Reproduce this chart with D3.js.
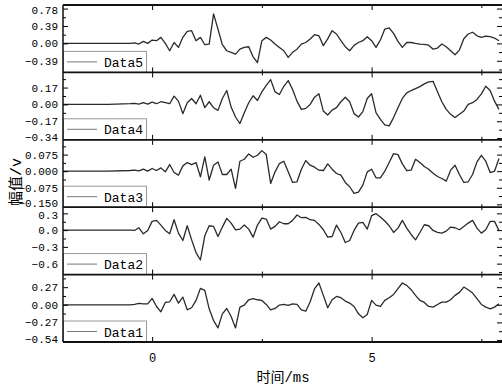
<!DOCTYPE html>
<html>
<head>
<meta charset="utf-8">
<script src="https://cdn.jsdelivr.net/npm/d3@7"></script>
<style>
  body { margin: 0; background: #fff; }
  text { font-family: "Liberation Mono", "Noto Sans CJK SC", monospace; fill: #000; }
</style>
</head>
<body>
<div id="chart"></div>
<script>
// time axis (ms), shared by all five traces
const times = [-2.03, -1.0, -0.5, -0.4, -0.3, -0.2, -0.1, 0.0, 0.1, 0.2, 0.3, 0.4, 0.5, 0.6, 0.7, 0.8, 0.9,
  1.0, 1.1, 1.2, 1.3, 1.4, 1.5, 1.6, 1.7, 1.8, 1.9, 2.0, 2.1, 2.2, 2.3, 2.4, 2.5, 2.6, 2.7, 2.8, 2.9,
  3.0, 3.1, 3.2, 3.3, 3.4, 3.5, 3.6, 3.7, 3.8, 3.9, 4.0, 4.1, 4.2, 4.3, 4.4, 4.5, 4.6, 4.7, 4.8, 4.9,
  5.0, 5.1, 5.2, 5.3, 5.4, 5.5, 5.6, 5.7, 5.8, 5.9, 6.0, 6.1, 6.2, 6.3, 6.4, 6.5, 6.6, 6.7, 6.8, 6.9,
  7.0, 7.1, 7.2, 7.3, 7.4, 7.5, 7.6, 7.7, 7.8, 7.9];

const data5 = [0, 0,
  0.00, 0.01, -0.015, 0.045, 0.0,
  0.075, 0.06, 0.135, 0, -0.165,
  0.02, -0.09, 0.135, 0.27, 0.285,
  0.06, 0.135, -0.03, -0.015, 0.66,
  0.32, -0.03, -0.165, -0.2, -0.24,
  -0.13, -0.09, -0.075, -0.3, -0.43,
  0.06, 0.135, 0.075, -0.015, -0.09,
  -0.165, -0.315, -0.2, -0.13, -0.015,
  0.02, 0.1, 0.195, 0.17, -0.05,
  0.1, 0.285, 0.21, 0.06, -0.075,
  -0.165, -0.045, 0.02, 0.06, 0.15,
  0.06, -0.09, 0.075, 0.32, 0.345,
  0.225, 0.045, -0.09, 0.02, 0.02,
  0.0, -0.015, -0.02, -0.04, -0.13,
  -0.105, -0.015, -0.075, -0.165, -0.255,
  -0.15, 0.105, 0.21, 0.25, 0.17,
  0.135, 0.165, 0.15, 0.12, 0.06];

const data4 = [0, 0,
  0.007, 0.01, 0.003, 0.017, 0.003,
  0.023, 0.007, 0.027, 0.017, 0.007,
  0.083, 0.033, -0.093, 0.017, 0.06,
  0.007, 0.093, -0.033, 0.027, -0.033,
  -0.06, 0.06, 0.14, -0.027, -0.127,
  -0.193, -0.083, 0.017, 0.087, 0.04,
  0.127, 0.193, 0.25, 0.127, 0.1,
  0.183, 0.24, 0.15, 0.033, -0.05,
  -0.04, 0, 0.073, 0.107, -0.067,
  -0.107, -0.057, -0.033, 0.027, 0.073,
  0.027, -0.093, -0.127, -0.073, 0.06,
  0.107, -0.083, -0.15, -0.207, -0.217,
  -0.133, -0.033, 0.06, 0.117, 0.14,
  0.16, 0.18, 0.207, 0.227, 0.233,
  0.127, 0.027, -0.05, -0.1, -0.133,
  -0.1, -0.067, 0, 0.017, 0.05,
  0.107, 0.183, 0.14, 0.033, -0.05];

const data3 = [0, 0,
  0.003, 0.0045, 0.0015, 0.009, 0,
  0.012, 0.003, 0.015, -0.003, 0.03,
  -0.006, -0.018, 0.024, 0.039, 0.03,
  0.039, -0.0255, 0.0645, -0.04, 0.027,
  0.042, -0.015, -0.015, 0.009, -0.078,
  0.045, 0.054, 0.078, 0.063, 0.072,
  0.093, 0.075, -0.0555, -0.003, 0.0345,
  0.045, -0.003, -0.051, -0.048, 0.009,
  0.048, 0.027, 0.018, 0.0045, 0.003,
  0.033, 0.009, -0.0105, -0.018, -0.051,
  -0.0705, -0.1, -0.0945, -0.063, -0.003,
  0.009, -0.03, -0.03, 0, 0.039,
  0.0795, 0.075, 0.033, 0.003, 0.0045,
  0.054, 0.039, 0.021, 0.009, -0.009,
  -0.024, -0.033, -0.045, 0.0045, 0.027,
  -0.015, -0.051, -0.048, -0.015, 0.042,
  0.072, 0.045, -0.006, 0, 0.057];

const data2 = [0, 0,
  0, -0.006, 0.042, -0.066, -0.006,
  0.156, 0.174, 0.09, -0.006, -0.066,
  0.186, -0.054, -0.186, 0.078, -0.174,
  -0.402, -0.534, -0.102, 0.078, 0.066,
  -0.114, 0.054, 0.21, 0.126, 0.006,
  0.018, 0.09, 0.018, -0.126, 0.09,
  0.216, 0.198, 0.018, 0.066, 0.15,
  0.114, 0.114, 0.174, 0.27, 0.222,
  0.228, 0.186, 0.174, 0.102, 0.006,
  -0.126, -0.114, 0.09, -0.042, -0.222,
  -0.186, -0.006, 0.126, 0.138, 0.018,
  0.258, 0.294, 0.234, 0.162, 0.078,
  -0.042, 0.036, 0.174, 0.036, -0.078,
  -0.174, -0.042, 0.096, 0.078, -0.006,
  -0.042, -0.054, -0.018, 0.054, 0.042,
  0.006, 0.066, 0.126, 0.174, 0.036,
  -0.054, 0.006, 0.156, 0.156, -0.006];

const data1 = [0, 0,
  0, 0.005, 0.021, 0.015, 0.015,
  0.098, -0.026, -0.108, 0.036, 0.046,
  0.159, 0.026, 0.118, -0.077, -0.046,
  0.067, 0.252, 0.221, -0.062, -0.242,
  -0.355, -0.139, -0.057, -0.18, -0.355,
  -0.036, -0.005, 0.077, 0.093, 0.077,
  0.067, 0.005, -0.077, -0.057, -0.005,
  0.005, -0.01, 0.015, 0.005, -0.077,
  -0.098, 0.046, 0.247, 0.334, 0.144,
  -0.046, 0.077, 0.128, 0.108, 0.057,
  0.026, -0.026, -0.139, -0.2, -0.149,
  0.067, -0.005, -0.026, 0.067, 0.108,
  0.159, 0.247, 0.334, 0.298, 0.231,
  0.144, 0.067, 0.036, -0.026, -0.036,
  0.005, 0.041, 0.041, 0.077, 0.144,
  0.19, 0.272, 0.231, 0.18, 0.093,
  0.005, -0.036, -0.062, -0.036, 0.015];

// tick values and labels per panel (top to bottom)
const ticks5 = [-0.39, 0, 0.39, 0.78], labels5 = ["-0.39", "0.00", "0.39", "0.78"];
const ticks4 = [-0.34, -0.17, 0, 0.17], labels4 = ["-0.34", "-0.17", "0.00", "0.17"];
const ticks3 = [-0.15, -0.075, 0, 0.075], labels3 = ["-0.150", "-0.075", "0.000", "0.075"];
const ticks2 = [-0.6, -0.3, 0, 0.3], labels2 = ["-0.6", "-0.3", "0.0", "0.3"];
const ticks1 = [-0.54, -0.27, 0, 0.27], labels1 = ["-0.54", "-0.27", "0.00", "0.27"];
const xTicks = [0, 5], xMinor = [2.5, 7.5];

const panels = [
  { name: "Data5", values: data5, domain: [-0.65, 0.86], ticks: ticks5, labels: labels5 },
  { name: "Data4", values: data4, domain: [-0.357, 0.323], ticks: ticks4, labels: labels4 },
  { name: "Data3", values: data3, domain: [-0.163, 0.142], ticks: ticks3, labels: labels3 },
  { name: "Data2", values: data2, domain: [-0.796, 0.41], ticks: ticks2, labels: labels2 },
  { name: "Data1", values: data1, domain: [-0.571, 0.463], ticks: ticks1, labels: labels1 }
];

const W = 502, H = 386;
const margin = { left: 63, right: 502, top: 5, bottom: 342 };
const ph = (margin.bottom - margin.top) / panels.length;

const svg = d3.select("#chart").append("svg")
  .attr("width", W).attr("height", H);

const x = d3.scaleLinear().domain([-2.03, 7.97]).range([margin.left, margin.right]);

panels.forEach((p, i) => {
  const y0 = margin.top + i * ph, y1 = y0 + ph;
  const y = d3.scaleLinear().domain(p.domain).range([y1, y0]);
  const g = svg.append("g");

  const step = p.ticks[1] - p.ticks[0];
  const minor = [p.ticks[0] - step / 2].concat(p.ticks.map(t => t + step / 2))
    .filter(t => t > p.domain[0] && t < p.domain[1]);

  // trace
  g.append("path")
    .datum(p.values)
    .attr("fill", "none")
    .attr("stroke", "#2a2a2a")
    .attr("stroke-width", 1.3)
    .attr("stroke-linejoin", "round")
    .attr("d", d3.line().x((d, j) => x(times[j])).y(d => y(d)));

  // left axis
  const la = g.append("g").attr("transform", `translate(${margin.left},0)`)
    .call(d3.axisLeft(y).tickValues(p.ticks).tickSize(-5).tickSizeOuter(0).tickPadding(5)
      .tickFormat((d, j) => p.labels[j]));
  la.select(".domain").remove();
  la.selectAll("text")
    .style("font-size", "11px")
    .text((d, j) => p.labels[j].replace("-", "\u2212"))
    // keep labels that sit on a panel edge from running into the next panel's labels
    .attr("y", d => y(d) - y1 > -6 ? -1.5 : (y(d) - y0 < 7 ? 1.5 : 0));
  g.append("g").attr("transform", `translate(${margin.left},0)`)
    .call(d3.axisLeft(y).tickValues(minor).tickSize(-3).tickFormat(""))
    .select(".domain").remove();

  // right axis (ticks only)
  const ra = g.append("g").attr("transform", `translate(${margin.right},0)`)
    .call(d3.axisRight(y).tickValues(p.ticks).tickSize(-5).tickFormat(""));
  ra.select(".domain").remove();
  g.append("g").attr("transform", `translate(${margin.right},0)`)
    .call(d3.axisRight(y).tickValues(minor).tickSize(-3).tickFormat(""))
    .select(".domain").remove();

  // top / bottom ticks
  [[y0, d3.axisTop], [y1, d3.axisBottom]].forEach(([yy, ax]) => {
    g.append("g").attr("transform", `translate(0,${yy})`)
      .call(ax(x).tickValues(xTicks).tickSize(-5).tickFormat(""))
      .select(".domain").remove();
    g.append("g").attr("transform", `translate(0,${yy})`)
      .call(ax(x).tickValues(xMinor).tickSize(-3).tickFormat(""))
      .select(".domain").remove();
  });

  // legend
  const lg = g.append("g").attr("transform", `translate(${margin.left},${y1 - 21})`);
  lg.append("rect").attr("x", 0.5).attr("y", 0).attr("width", 83).attr("height", 21)
    .attr("fill", "#fff").attr("stroke", "#999");
  lg.append("line").attr("x1", 4).attr("x2", 34).attr("y1", 10.5).attr("y2", 10.5)
    .attr("stroke", "#777").attr("stroke-width", 1);
  lg.append("text").attr("x", 41).attr("y", 15.5).style("font-size", "13px").text(p.name);
});

// frame lines
d3.range(panels.length + 1).forEach(i => {
  svg.append("line").attr("x1", margin.left).attr("x2", margin.right)
    .attr("y1", margin.top + i * ph).attr("y2", margin.top + i * ph)
    .attr("stroke", "#111").attr("stroke-width", 1.8);
});
svg.append("line").attr("x1", margin.left).attr("x2", margin.left)
  .attr("y1", margin.top).attr("y2", margin.bottom)
  .attr("stroke", "#111").attr("stroke-width", 1.5);

// x tick labels
svg.append("g").attr("transform", `translate(0,${margin.bottom})`)
  .call(d3.axisBottom(x).tickValues(xTicks).tickSize(0).tickPadding(11).tickFormat(d3.format("d")))
  .call(a => a.select(".domain").remove())
  .selectAll("text").style("font-size", "12px");

// axis titles
svg.append("text").attr("x", 283).attr("y", 382).attr("text-anchor", "middle")
  .style("font-size", "14px").text("时间/ms");
svg.append("text").attr("transform", "translate(21,182) rotate(-90)").attr("text-anchor", "middle")
  .style("font-size", "15px").text("幅值/v");
</script>
</body>
</html>
